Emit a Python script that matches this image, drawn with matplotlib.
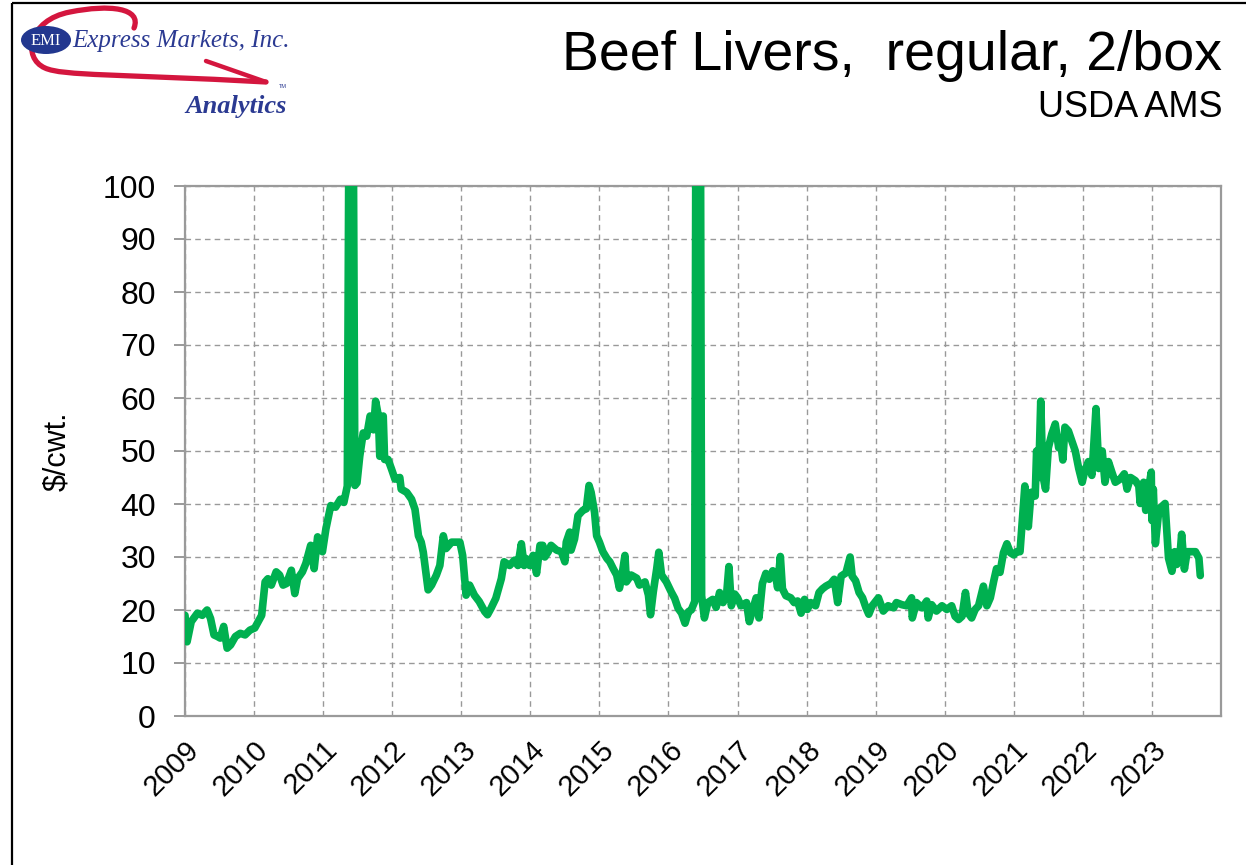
import matplotlib
matplotlib.use("Agg")
import matplotlib.pyplot as plt
from matplotlib.patches import Ellipse, PathPatch
from matplotlib.path import Path

plt.rcParams['font.family'] = ['Liberation Sans', 'DejaVu Sans']

# ---- data (decimal year, $/cwt) ----
dates = [
    2009.00, 2009.03, 2009.09, 2009.18, 2009.25, 2009.32, 2009.37, 2009.42, 2009.47, 2009.51,
    2009.56, 2009.61, 2009.66, 2009.73, 2009.80, 2009.87, 2009.94, 2010.01, 2010.06, 2010.11,
    2010.16, 2010.20, 2010.25, 2010.32, 2010.37, 2010.42, 2010.47, 2010.54, 2010.59, 2010.63,
    2010.70, 2010.75, 2010.82, 2010.87, 2010.92, 2010.99, 2011.04, 2011.11, 2011.18, 2011.25,
    2011.30, 2011.35, 2011.38, 2011.43, 2011.46, 2011.49, 2011.53, 2011.58, 2011.63, 2011.68,
    2011.73, 2011.76, 2011.80, 2011.82, 2011.87, 2011.89, 2011.94, 2011.99, 2012.04, 2012.11,
    2012.13, 2012.21, 2012.28, 2012.33, 2012.38, 2012.42, 2012.45, 2012.52, 2012.57, 2012.64,
    2012.69, 2012.74, 2012.78, 2012.86, 2012.93, 2012.98, 2013.02, 2013.07, 2013.12, 2013.19,
    2013.26, 2013.34, 2013.38, 2013.43, 2013.50, 2013.58, 2013.62, 2013.70, 2013.77, 2013.82,
    2013.87, 2013.91, 2013.94, 2013.99, 2014.04, 2014.09, 2014.14, 2014.18, 2014.21, 2014.26,
    2014.30, 2014.38, 2014.45, 2014.50, 2014.52, 2014.57, 2014.59, 2014.64, 2014.69, 2014.76,
    2014.81, 2014.85, 2014.88, 2014.93, 2014.96, 2015.00, 2015.05, 2015.11, 2015.15, 2015.20,
    2015.25, 2015.29, 2015.32, 2015.37, 2015.39, 2015.46, 2015.54, 2015.58, 2015.66, 2015.71,
    2015.74, 2015.78, 2015.83, 2015.86, 2015.90, 2015.97, 2016.04, 2016.09, 2016.14, 2016.19,
    2016.24, 2016.29, 2016.33, 2016.38, 2016.40, 2016.46, 2016.48, 2016.52, 2016.57, 2016.64,
    2016.69, 2016.74, 2016.79, 2016.84, 2016.875, 2016.91, 2016.96, 2017.00, 2017.05, 2017.13,
    2017.17, 2017.22, 2017.27, 2017.31, 2017.36, 2017.41, 2017.46, 2017.51, 2017.56, 2017.58,
    2017.62, 2017.65, 2017.70, 2017.77, 2017.82, 2017.87, 2017.92, 2017.97, 2018.01, 2018.06,
    2018.13, 2018.18, 2018.23, 2018.28, 2018.35, 2018.40, 2018.45, 2018.50, 2018.57, 2018.63,
    2018.66, 2018.71, 2018.76, 2018.81, 2018.86, 2018.90, 2018.95, 2019.04, 2019.11, 2019.18,
    2019.26, 2019.30, 2019.38, 2019.45, 2019.52, 2019.53, 2019.59, 2019.67, 2019.74, 2019.76,
    2019.81, 2019.88, 2019.96, 2020.03, 2020.10, 2020.15, 2020.20, 2020.25, 2020.30, 2020.34,
    2020.39, 2020.44, 2020.49, 2020.56, 2020.61, 2020.66, 2020.71, 2020.75, 2020.80, 2020.85,
    2020.90, 2020.95, 2021.00, 2021.04, 2021.09, 2021.12, 2021.16, 2021.21, 2021.25, 2021.31,
    2021.33, 2021.36, 2021.39, 2021.42, 2021.46, 2021.50, 2021.55, 2021.60, 2021.65, 2021.67,
    2021.71, 2021.74, 2021.79, 2021.84, 2021.89, 2021.94, 2021.99, 2022.03, 2022.08, 2022.13,
    2022.15, 2022.19, 2022.23, 2022.28, 2022.32, 2022.37, 2022.42, 2022.47, 2022.54, 2022.60,
    2022.64, 2022.69, 2022.76, 2022.81, 2022.83, 2022.88, 2022.91, 2022.95, 2022.99, 2023.00,
    2023.02, 2023.05, 2023.10, 2023.14, 2023.19, 2023.24, 2023.29, 2023.33, 2023.36, 2023.41,
    2023.43, 2023.47, 2023.51, 2023.58, 2023.63, 2023.68, 2023.70,
]
prices = [
    19.0, 14.0, 17.8, 19.4, 19.0, 20.0, 18.4, 15.3, 15.0, 14.7,
    16.9, 12.8, 13.4, 15.0, 15.6, 15.3, 16.2, 16.6, 17.8, 19.0,
    25.3, 25.9, 24.7, 27.2, 26.6, 24.7, 25.0, 27.5, 23.1, 25.9,
    27.2, 28.8, 32.2, 27.8, 33.8, 31.0, 35.3, 39.7, 39.4, 40.9,
    40.3, 43.4, 130.0, 130.0, 43.5, 44.0, 49.0, 53.4, 52.8, 56.6,
    54.0, 59.4, 56.6, 49.0, 56.6, 48.4, 48.4, 46.6, 44.7, 45.0,
    42.8, 42.2, 40.9, 39.0, 34.0, 32.8, 30.9, 23.8, 24.7, 26.6,
    28.4, 34.0, 31.6, 32.8, 32.8, 32.8, 30.3, 22.8, 24.7, 22.8,
    21.6, 19.7, 19.1, 20.3, 22.2, 25.9, 29.1, 28.4, 29.4, 28.4,
    32.5, 28.4, 29.7, 28.4, 30.3, 26.9, 32.2, 32.2, 30.0, 31.0,
    32.2, 31.3, 31.0, 29.1, 32.8, 34.7, 31.3, 33.4, 37.8, 38.8,
    39.1, 43.5, 42.2, 38.4, 34.0, 32.8, 31.0, 29.7, 29.1, 27.8,
    26.6, 24.1, 26.0, 30.3, 25.3, 26.6, 26.0, 24.7, 25.3, 22.8,
    19.1, 23.4, 27.8, 30.9, 26.6, 25.3, 23.4, 22.2, 20.3, 19.4,
    17.5, 19.7, 20.0, 21.6, 130.0, 130.0, 22.7, 18.5, 21.4, 22.0,
    20.5, 23.3, 21.4, 22.7, 28.2, 20.8, 23.0, 22.3, 20.8, 21.4,
    17.8, 20.1, 22.3, 18.5, 25.0, 26.9, 25.8, 27.4, 25.8, 24.2,
    30.1, 24.0, 22.7, 22.3, 21.4, 21.7, 19.4, 22.0, 20.1, 21.4,
    20.8, 23.3, 24.0, 24.5, 25.0, 25.8, 21.4, 26.4, 27.0, 30.0,
    26.4, 25.5, 23.3, 22.3, 20.4, 19.2, 20.8, 22.3, 19.8, 20.8,
    20.4, 21.4, 21.0, 20.8, 22.3, 18.5, 21.4, 20.4, 21.7, 18.5,
    21.0, 19.8, 20.8, 20.1, 20.8, 18.8, 18.2, 18.8, 23.3, 19.4,
    18.5, 20.1, 20.8, 24.5, 20.8, 22.3, 25.5, 27.8, 27.1, 30.8,
    32.5, 30.8, 30.4, 31.0, 31.0, 36.3, 43.4, 35.7, 42.2, 41.5,
    50.0, 45.0, 59.4, 45.4, 42.8, 50.6, 53.2, 55.1, 50.6, 52.5,
    48.3, 54.5, 53.8, 51.9, 50.0, 46.7, 44.1, 46.4, 48.0, 45.4,
    49.4, 58.0, 46.7, 50.0, 44.1, 48.0, 46.0, 44.1, 44.7, 45.7,
    42.8, 45.0, 44.4, 43.4, 40.1, 44.1, 38.8, 42.8, 46.0, 36.9,
    42.8, 32.5, 38.8, 39.5, 40.1, 29.8, 27.3, 31.0, 28.6, 31.0,
    34.3, 27.7, 31.0, 31.0, 31.0, 29.8, 26.5,
]
year_ticks = list(range(2009, 2024))
year_labels = [str(y) for y in year_ticks]
y_ticks = list(range(0, 101, 10))

title = "Beef Livers,  regular, 2/box"
subtitle = "USDA AMS"
ylabel = "$/cwt."

W, H = 1246, 865
fig = plt.figure(figsize=(W / 100, H / 100), dpi=100)
fig.patch.set_facecolor("white")

# background overlay axes in pixel coordinates (logo, frame)
bg = fig.add_axes([0, 0, 1, 1], zorder=0)
bg.set_xlim(0, W)
bg.set_ylim(H, 0)
bg.axis("off")

# frame lines (left and top)
bg.plot([12, 12], [3, H], color="black", lw=1.6, solid_capstyle="butt")
bg.plot([12, W], [3, 3], color="black", lw=1.6, solid_capstyle="butt")

# logo
red = "#D4163E"
blue = "#2B3A92"
verts = [(134, 28), (142, 8), (110, 4), (70, 12),
         (28, 20), (22, 58), (45, 68),
         (62, 76), (120, 74), (266, 82)]
codes = [Path.MOVETO, Path.CURVE4, Path.CURVE4, Path.CURVE4,
         Path.CURVE4, Path.CURVE4, Path.CURVE4,
         Path.CURVE4, Path.CURVE4, Path.CURVE4]
bg.add_patch(PathPatch(Path(verts, codes), facecolor="none", edgecolor=red, lw=3.8,
                       capstyle="round"))
bg.plot([206, 266], [61, 82], color=red, lw=3.2, solid_capstyle="round")
bg.add_patch(Ellipse((46, 40), 50, 28, facecolor="#22378F", edgecolor="none", zorder=3))
bg.text(46, 41, "EMI", color="white", fontsize=12, family=["Liberation Serif"],
        ha="center", va="center", zorder=4)
bg.text(72, 41, "Express Markets, Inc.", color=blue, fontsize=18,
        family=["Liberation Serif"], style="italic", ha="left", va="center", zorder=4)
bg.text(287, 107, "Analytics", color=blue, fontsize=19, family=["Liberation Serif"],
        style="italic", weight="bold", ha="right", va="center")
bg.text(283, 87, "TM", color=blue, fontsize=4, ha="center", va="center")

# titles
fig.text(1222 / W, 1 - 70 / H, title, fontsize=40, ha="right", va="baseline", color="black")
fig.text(1222 / W, 1 - 117 / H, subtitle, fontsize=26, ha="right", va="baseline", color="black")

# main axes
ax = fig.add_axes([185 / W, 1 - 716 / H, (1221 - 185) / W, (716 - 186) / H], zorder=2)
ax.set_facecolor("none")
ax.plot(dates, prices, color="#00B050", lw=5.5, solid_joinstyle="round",
        solid_capstyle="round", zorder=3)
ax.set_xlim(2009, 2024)
ax.set_ylim(0, 100)
ax.set_yticks(y_ticks)
ax.set_xticks(year_ticks)
ax.set_xticklabels(year_labels, rotation=45, ha="right", rotation_mode="anchor")
ax.tick_params(axis="y", labelsize=23, length=8, width=1.2, color="#888888", pad=13)
ax.tick_params(axis="x", labelsize=21, length=0, pad=14)
ax.grid(True, color="#999999", linestyle=(0, (4, 3)), linewidth=1.0)
for s in ax.spines.values():
    s.set_color("#9a9a9a")
    s.set_linewidth(1.6)
ax.set_ylabel(ylabel, fontsize=22, labelpad=22)

fig.savefig("out.png", dpi=100)
